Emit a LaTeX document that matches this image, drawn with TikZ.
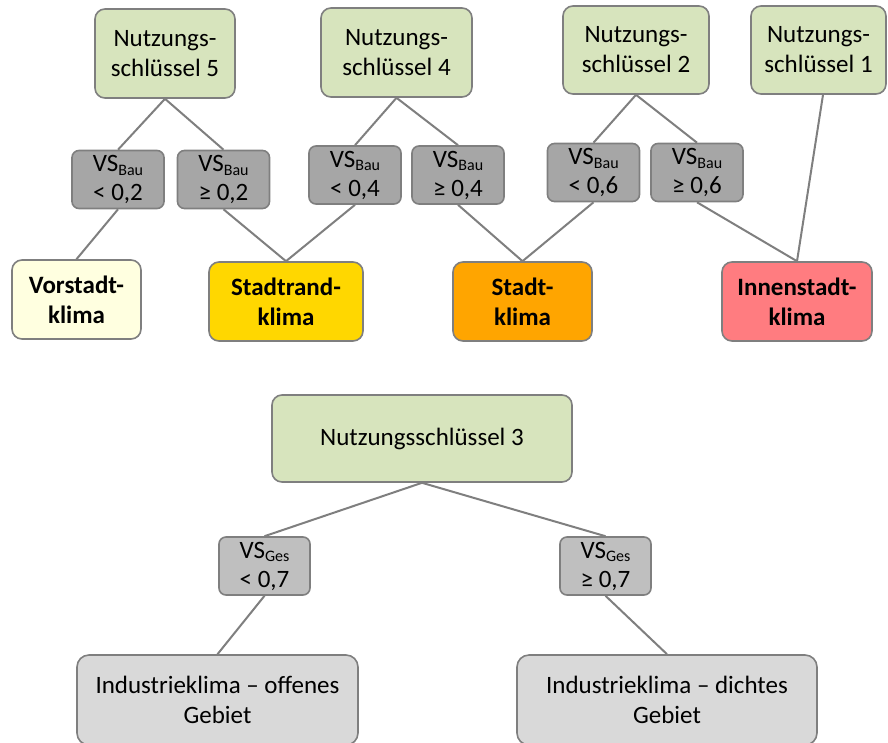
\documentclass[tikz,border=0pt]{standalone}
\usepackage{fontspec}
\setmainfont{Carlito}
\definecolor{nsgreen}{HTML}{D7E4BD}
\definecolor{vsdark}{HTML}{A6A6A6}
\definecolor{vslight}{HTML}{BFBFBF}
\definecolor{indgray}{HTML}{D9D9D9}
\definecolor{bordergray}{HTML}{7F7F7F}
\definecolor{vorstadt}{HTML}{FFFFE0}
\definecolor{stadtrand}{HTML}{FFD700}
\definecolor{stadt}{HTML}{FFA500}
\definecolor{innenstadt}{HTML}{FF7C80}
\newcommand{\vssub}[1]{VS\raisebox{-3.5pt}{\fontsize{16}{16}\selectfont #1}}
\tikzset{
  base/.style={draw=bordergray, line width=1.6pt, align=center, inner sep=0pt,
    font=\fontsize{25}{30}\selectfont},
  nsbox/.style={base, fill=nsgreen, rounded corners=10pt},
  vsbox/.style={base, fill=vsdark, rounded corners=7pt, minimum width=92pt, minimum height=58pt,
    font=\fontsize{25}{29}\selectfont},
  vsbox2/.style={vsbox, fill=vslight, minimum width=91pt},
  resbox/.style={base, rounded corners=10pt, minimum height=79pt,
    font=\bfseries\fontsize{25}{30}\selectfont},
  indbox/.style={base, fill=indgray, rounded corners=12pt, minimum width=281pt, minimum height=90pt},
  conn/.style={draw=bordergray, line width=2pt}
}
\begin{document}
\begin{tikzpicture}[x=1pt,y=-1pt]
\useasboundingbox (0,0) rectangle (888,742);
\clip (0,0) rectangle (888,742);
% top Nutzungsschluessel boxes
\node[nsbox, minimum width=140pt, minimum height=89pt] (ns5) at (165,53.5) {Nutzungs-\\schlüssel 5};
\node[nsbox, minimum width=151pt, minimum height=89pt] (ns4) at (396.5,52.5) {Nutzungs-\\schlüssel 4};
\node[nsbox, minimum width=146pt, minimum height=88pt] (ns2) at (636,50) {Nutzungs-\\schlüssel 2};
\node[nsbox, minimum width=135pt, minimum height=88pt] (ns1) at (818.5,50) {Nutzungs-\\schlüssel 1};
% VS boxes
\node[vsbox] (v02a) at (118,179.5) {\vssub{Bau}\\< 0,2};
\node[vsbox] (v02b) at (223.5,179.5) {\vssub{Bau}\\≥ 0,2};
\node[vsbox] (v04a) at (355,175) {\vssub{Bau}\\< 0,4};
\node[vsbox] (v04b) at (458,175) {\vssub{Bau}\\≥ 0,4};
\node[vsbox] (v06a) at (593.5,172.5) {\vssub{Bau}\\< 0,6};
\node[vsbox] (v06b) at (697,172.5) {\vssub{Bau}\\≥ 0,6};
% result boxes
\node[resbox, fill=vorstadt, minimum width=129pt] (vor) at (76.5,299.5) {Vorstadt-\\klima};
\node[resbox, fill=stadtrand, minimum width=154pt] (srand) at (286,301.5) {Stadtrand-\\klima};
\node[resbox, fill=stadt, minimum width=139pt] (stadt) at (522.5,301.5) {Stadt-\\klima};
\node[resbox, fill=innenstadt, minimum width=150pt] (innen) at (797,301.5) {Innenstadt-\\klima};
% bottom part
\node[nsbox, minimum width=300pt, minimum height=87pt] (ns3) at (422,438.5) {Nutzungsschlüssel 3};
\node[vsbox2] (v07a) at (264.5,566) {\vssub{Ges}\\< 0,7};
\node[vsbox2] (v07b) at (605.5,566) {\vssub{Ges}\\≥ 0,7};
\node[indbox] (indo) at (217.5,700) {Industrieklima – offenes\\Gebiet};
\node[indbox, minimum width=300pt] (indd) at (667,700) {Industrieklima – dichtes\\Gebiet};
% connectors
\draw[conn] (ns5.south) -- (v02a.north);
\draw[conn] (ns5.south) -- (v02b.north);
\draw[conn] (v02a.south) -- (vor.north);
\draw[conn] (v02b.south) -- (srand.north);
\draw[conn] (ns4.south) -- (v04a.north);
\draw[conn] (ns4.south) -- (v04b.north);
\draw[conn] (v04a.south) -- (srand.north);
\draw[conn] (v04b.south) -- (stadt.north);
\draw[conn] (ns2.south) -- (v06a.north);
\draw[conn] (ns2.south) -- (v06b.north);
\draw[conn] (v06a.south) -- (stadt.north);
\draw[conn] (v06b.south) -- (innen.north);
\draw[conn] ([xshift=4.5pt]ns1.south) -- (innen.north);
\draw[conn] (ns3.south) -- (v07a.north);
\draw[conn] (ns3.south) -- (v07b.north);
\draw[conn] (v07a.south) -- (indo.north);
\draw[conn] (v07b.south) -- (indd.north);
\end{tikzpicture}
\end{document}
